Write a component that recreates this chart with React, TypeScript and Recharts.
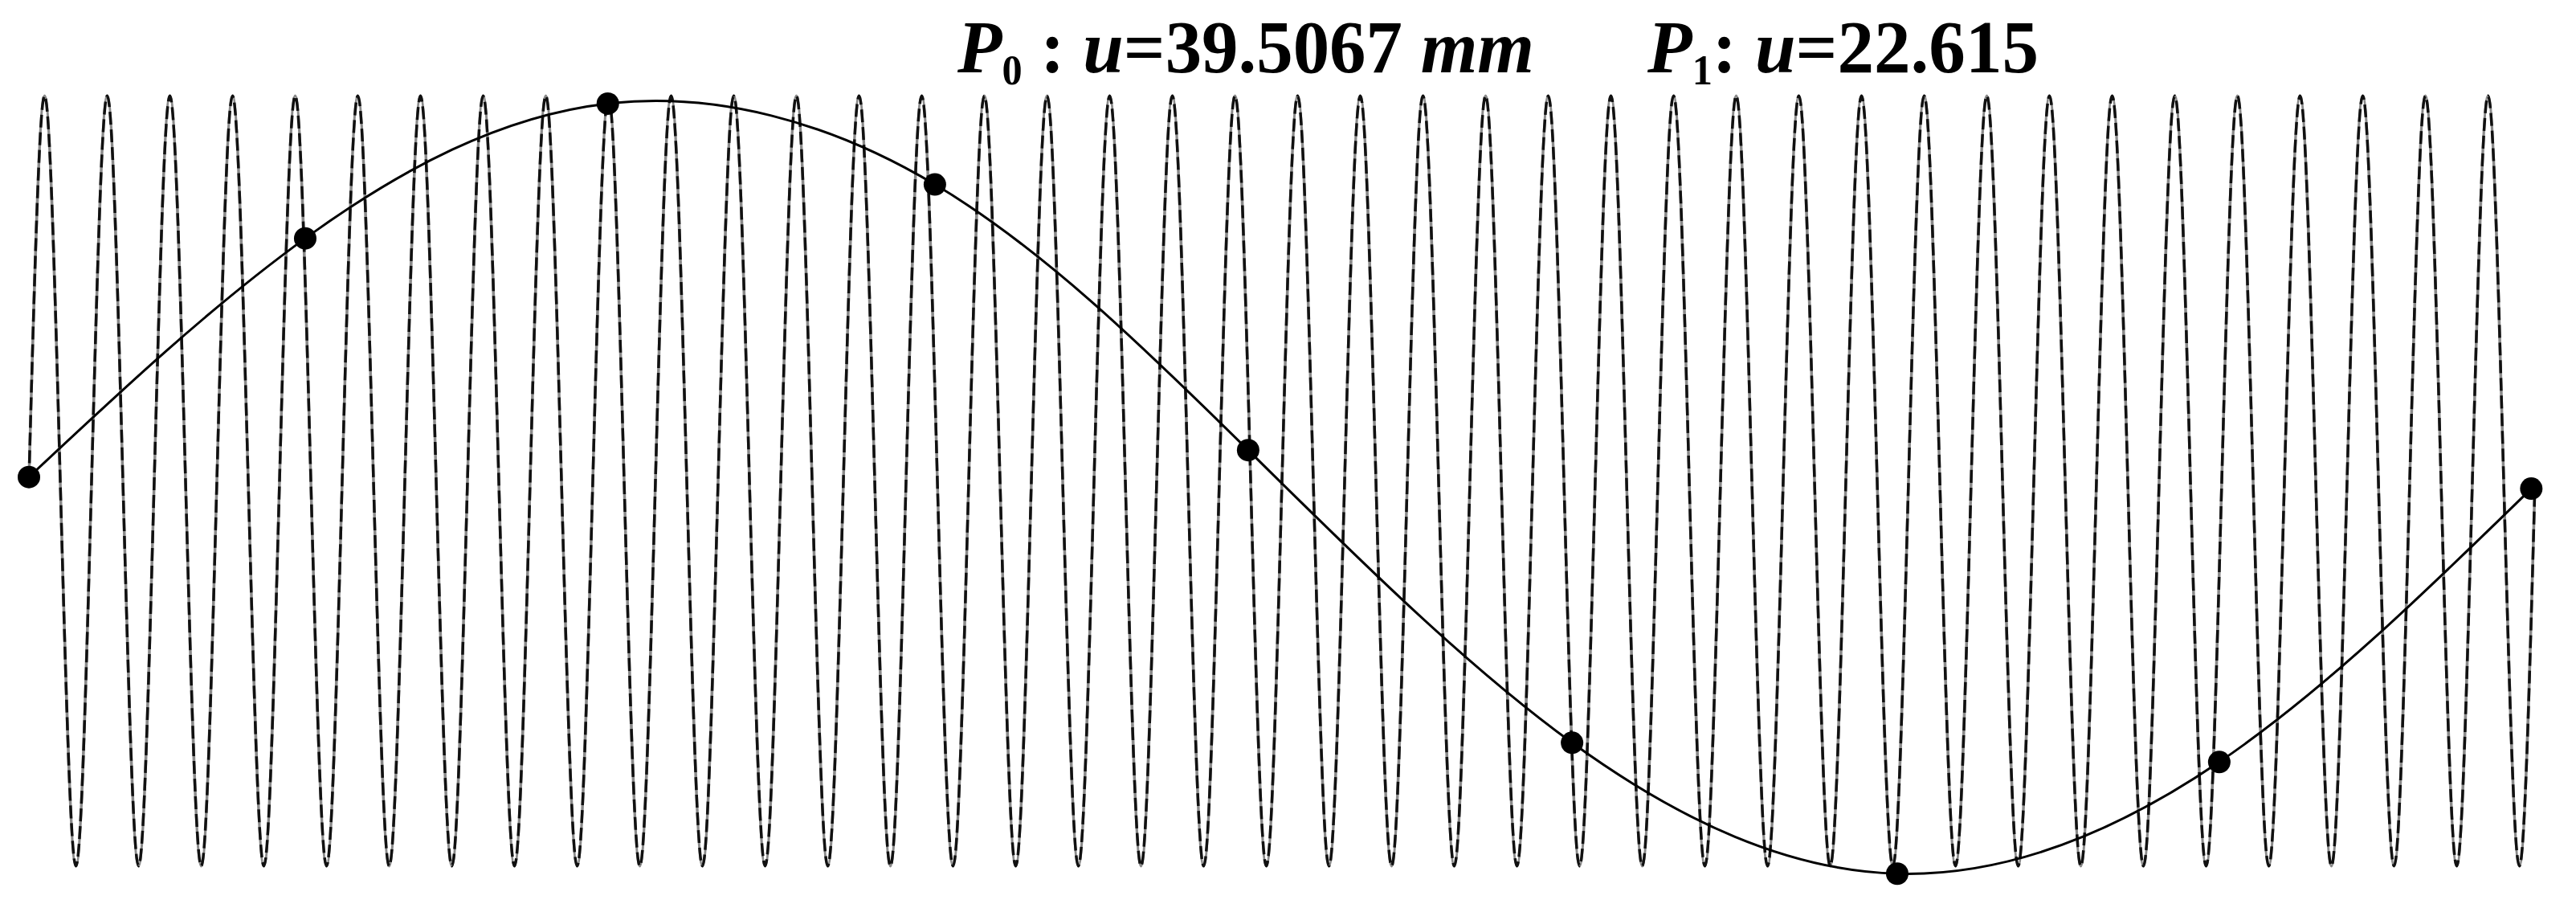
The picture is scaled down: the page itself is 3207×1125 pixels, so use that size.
import { LineChart, Line, XAxis, YAxis } from 'recharts';

// fast oscillation: start, then peak / trough positions (in periods), then end
const fastX = [
  0,
  0.25, 0.75, 1.25, 1.75, 2.25, 2.75, 3.25, 3.75, 4.25, 4.75,
  5.25, 5.75, 6.25, 6.75, 7.25, 7.75, 8.25, 8.75, 9.25, 9.75,
  10.25, 10.75, 11.25, 11.75, 12.25, 12.75, 13.25, 13.75, 14.25, 14.75,
  15.25, 15.75, 16.25, 16.75, 17.25, 17.75, 18.25, 18.75, 19.25, 19.75,
  20.25, 20.75, 21.25, 21.75, 22.25, 22.75, 23.25, 23.75, 24.25, 24.75,
  25.25, 25.75, 26.25, 26.75, 27.25, 27.75, 28.25, 28.75, 29.25, 29.75,
  30.25, 30.75, 31.25, 31.75, 32.25, 32.75, 33.25, 33.75, 34.25, 34.75,
  35.25, 35.75, 36.25, 36.75, 37.25, 37.75, 38.25, 38.75, 39.25, 39.75,
  40,
];
const fastY = [
  0,
  1, -1, 1, -1, 1, -1, 1, -1, 1, -1,
  1, -1, 1, -1, 1, -1, 1, -1, 1, -1,
  1, -1, 1, -1, 1, -1, 1, -1, 1, -1,
  1, -1, 1, -1, 1, -1, 1, -1, 1, -1,
  1, -1, 1, -1, 1, -1, 1, -1, 1, -1,
  1, -1, 1, -1, 1, -1, 1, -1, 1, -1,
  1, -1, 1, -1, 1, -1, 1, -1, 1, -1,
  1, -1, 1, -1, 1, -1, 1, -1, 1, -1,
  0,
];

// sampled points P0..P8 on the slow curve
const knotX = [0, 4.41, 9.24, 14.46, 19.46, 24.63, 29.82, 34.96, 39.94];
const knotY = [0.01, 0.63, 0.98, 0.77, 0.08, -0.68, -1.02, -0.73, -0.02];

const fastData = fastX.map((x, i) => ({ x, y: fastY[i] }));
const knotData = knotX.map((x, i) => ({ x, y: knotY[i] }));

const W = 3207;
const H = 1125;

export default function App() {
  return (
    <div style={{ position: 'absolute', left: 0, top: 0, width: W, height: H, background: '#fff' }}>
      <LineChart width={W} height={H} margin={{ top: 81, right: 51, bottom: 9, left: 36 }}>
        <XAxis type="number" dataKey="x" domain={[0, 40]} hide />
        <YAxis type="number" domain={[-1.08, 1.08]} hide />
        <Line
          data={fastData}
          dataKey="y"
          type="monotone"
          stroke="#8a8a8a"
          strokeWidth={3.5}
          dot={false}
          activeDot={false}
          isAnimationActive={false}
        />
        <Line
          data={fastData}
          dataKey="y"
          type="monotone"
          stroke="#111"
          strokeWidth={3.5}
          strokeDasharray="16 6"
          dot={false}
          activeDot={false}
          isAnimationActive={false}
        />
        <Line
          data={knotData}
          dataKey="y"
          type="natural"
          stroke="#000"
          strokeWidth={3}
          dot={{ r: 14, fill: '#000', stroke: '#000', strokeWidth: 0 }}
          activeDot={false}
          isAnimationActive={false}
        />
      </LineChart>
      <svg width={W} height={H} style={{ position: 'absolute', left: 0, top: 0 }}>
        <text
          x={1192}
          y={90}
          fontFamily="'Liberation Serif', 'Times New Roman', serif"
          fontWeight="bold"
          fontSize={94}
          fill="#000"
          textLength={718}
          lengthAdjust="spacingAndGlyphs"
        >
          <tspan fontStyle="italic">P</tspan>
          <tspan fontSize={52} dy={15}>0</tspan>
          <tspan dy={-15}> : </tspan>
          <tspan fontStyle="italic">u</tspan>
          <tspan>=39.5067 </tspan>
          <tspan fontStyle="italic">mm</tspan>
        </text>
        <text
          x={2051}
          y={90}
          fontFamily="'Liberation Serif', 'Times New Roman', serif"
          fontWeight="bold"
          fontSize={94}
          fill="#000"
          textLength={487}
          lengthAdjust="spacingAndGlyphs"
        >
          <tspan fontStyle="italic">P</tspan>
          <tspan fontSize={52} dy={15}>1</tspan>
          <tspan dy={-15}>: </tspan>
          <tspan fontStyle="italic">u</tspan>
          <tspan>=22.615</tspan>
        </text>
      </svg>
    </div>
  );
}
